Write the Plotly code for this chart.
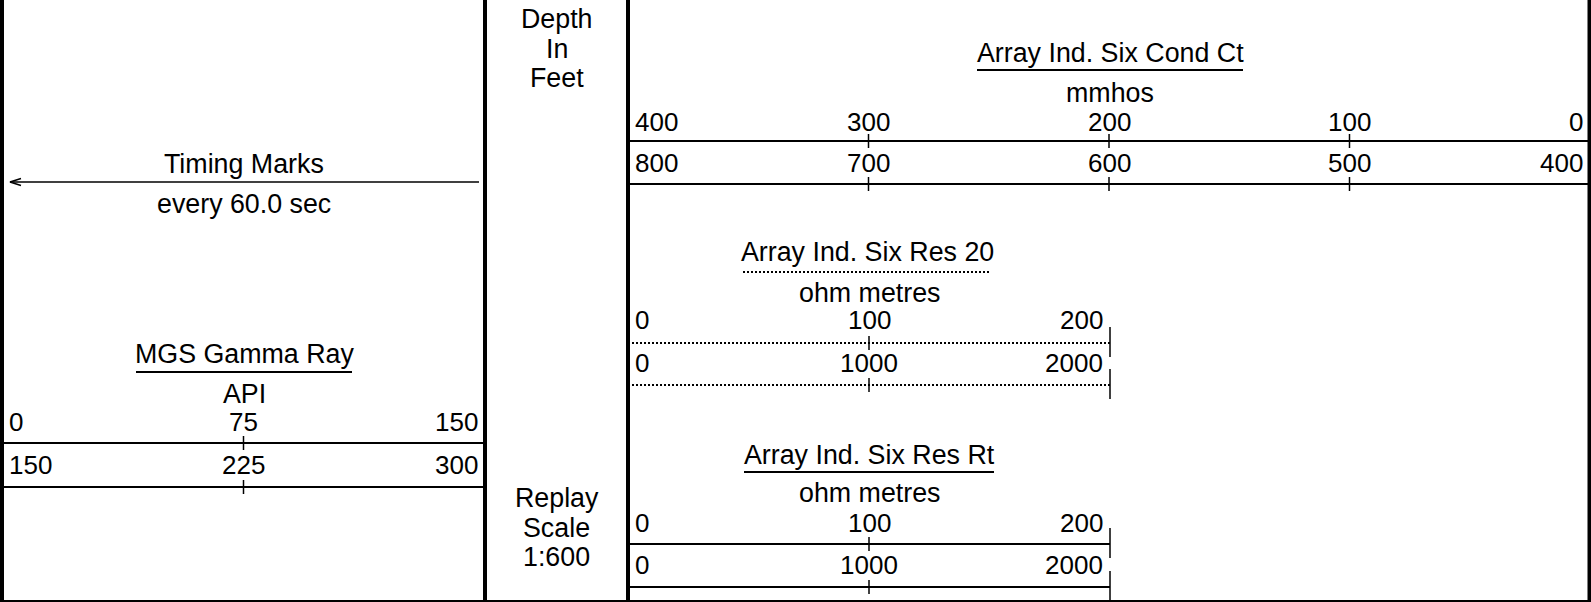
import plotly.graph_objects as go

W, H = 1591, 602

# ---- scale values -------------------------------------------------------
gr_top = [0, 75, 150]
gr_bottom = [150, 225, 300]
ct_top = [400, 300, 200, 100, 0]
ct_bottom = [800, 700, 600, 500, 400]
res20_top = [0, 100, 200]
res20_bottom = [0, 1000, 2000]
rt_top = [0, 100, 200]
rt_bottom = [0, 1000, 2000]

# ---- layout of the header (pixel frame, y grows downward) -------------
FONT = "Liberation Sans, Arial, sans-serif"
TXT = 26.8
NUM = 26

tracks = {
    "gr": (2, 485),
    "ct": (628, 1590),
    "res": (628, 1110),
}

# each scale: values, track, y of scale line, y of its labels, dash, end tick
scales = [
    dict(vals=gr_top, track="gr", line_y=443, label_y=422, dash="solid", end=False),
    dict(vals=gr_bottom, track="gr", line_y=487, label_y=464.5, dash="solid", end=False),
    dict(vals=ct_top, track="ct", line_y=141, label_y=121.5, dash="solid", end=False),
    dict(vals=ct_bottom, track="ct", line_y=184, label_y=163, dash="solid", end=False),
    dict(vals=res20_top, track="res", line_y=343, label_y=320, dash="2px,2px", end=True),
    dict(vals=res20_bottom, track="res", line_y=385, label_y=363, dash="2px,2px", end=True),
    dict(vals=rt_top, track="res", line_y=544, label_y=523, dash="solid", end=True),
    dict(vals=rt_bottom, track="res", line_y=587, label_y=565, dash="solid", end=True),
]

fig = go.Figure()
layout_axes = {}
annotations = []
shapes = []

# frame axis used for borders and headings
layout_axes["xaxis"] = dict(range=[0, W], domain=[0, 1], visible=False, fixedrange=True, anchor="y")
layout_axes["yaxis"] = dict(range=[H, 0], domain=[0, 1], visible=False, fixedrange=True, anchor="x")


def scale_axis(p0, p1, v0, v1, pad=12):
    """Axis whose values v0..v1 fall on pixels p0..p1, padded so edge marks are not clipped."""
    k = (v1 - v0) / (p1 - p0)
    d0 = max(0, p0 - pad)
    d1 = min(W, p1 + pad)
    return dict(
        domain=[d0 / W, d1 / W],
        range=[v0 + (d0 - p0) * k, v0 + (d1 - p0) * k],
        visible=False, fixedrange=True, anchor="y",
    )


for i, s in enumerate(scales, start=2):
    vals = s["vals"]
    p0, p1 = tracks[s["track"]]
    v0, v1 = vals[0], vals[-1]
    layout_axes[f"xaxis{i}"] = scale_axis(p0, p1, v0, v1)
    xa = f"x{i}"
    ly = s["line_y"]

    # scale line across the track
    fig.add_trace(go.Scatter(
        x=[v0, v1], y=[ly, ly], mode="lines", xaxis=xa, yaxis="y",
        line=dict(color="black", width=2, dash=s["dash"]), hoverinfo="skip",
    ))

    # tick marks at the inner values
    tx, ty = [], []
    for v in vals[1:-1]:
        tx += [v, v, None]
        ty += [ly - 7, ly + 7, None]
    if s["end"]:
        tx += [v1, v1, None]
        ty += [ly - 16, ly + 14, None]
    fig.add_trace(go.Scatter(
        x=tx, y=ty, mode="lines", xaxis=xa, yaxis="y",
        line=dict(color="black", width=1.5), hoverinfo="skip",
    ))

    # scale labels
    for j, v in enumerate(vals):
        if j == 0:
            anchor, shift = "left", 5
        elif j == len(vals) - 1:
            anchor, shift = "right", -5
        else:
            anchor, shift = "center", 0
        annotations.append(dict(
            x=v, y=s["label_y"], xref=xa, yref="y", text=str(v), showarrow=False,
            xanchor=anchor, yanchor="middle", xshift=shift,
            font=dict(family=FONT, size=NUM, color="black"),
        ))

# ---- headings ------------------------------------------------------------
headings = [
    ("Timing Marks", 244, 164),
    ("every 60.0 sec", 244, 204),
    ("MGS Gamma Ray", 244, 353.5),
    ("API", 244, 393.5),
    ("Depth", 556.5, 19),
    ("In", 556.5, 49),
    ("Feet", 556.5, 78),
    ("Replay", 556.5, 498),
    ("Scale", 556.5, 528),
    ("1:600", 556.5, 557),
    ("Array Ind. Six Cond Ct", 1110, 52.5),
    ("mmhos", 1110, 92.5),
    ("Array Ind. Six Res 20", 867, 252),
    ("ohm metres", 869, 293),
    ("Array Ind. Six Res Rt", 869, 455),
    ("ohm metres", 869, 493),
]
for text, x, y in headings:
    annotations.append(dict(
        x=x, y=y, xref="x", yref="y", text=text, showarrow=False,
        xanchor="center", yanchor="middle",
        font=dict(family=FONT, size=TXT, color="black"),
    ))

# underlines (curve line style) below each curve name
underlines = [
    (136, 352, 372, "solid"),
    (977, 1243, 70, "solid"),
    (743, 990, 272, "2px,2px"),
    (744, 994, 472, "solid"),
]
for x0, x1, y, dash in underlines:
    shapes.append(dict(type="line", xref="x", yref="y", x0=x0, x1=x1, y0=y, y1=y,
                       line=dict(color="black", width=2, dash=dash)))

# track borders
for x in (2, 485, 628, 1589.5):
    shapes.append(dict(type="line", xref="x", yref="paper", x0=x, x1=x, y0=0, y1=1,
                       line=dict(color="black", width=4)))
shapes.append(dict(type="line", xref="paper", yref="y", x0=0, x1=1, y0=601, y1=601,
                   line=dict(color="black", width=2)))

# timing marks arrow pointing left
fig.add_trace(go.Scatter(
    x=[479, 10, None, 21, 10, 21], y=[182, 182, None, 178.5, 182, 185.5],
    mode="lines", xaxis="x", yaxis="y",
    line=dict(color="black", width=1.5), hoverinfo="skip",
))

fig.update_layout(
    width=W, height=H,
    margin=dict(l=0, r=0, t=0, b=0),
    paper_bgcolor="white", plot_bgcolor="rgba(0,0,0,0)",
    showlegend=False,
    annotations=annotations,
    shapes=shapes,
    **layout_axes,
)

fig.write_html("out.html", config={"displayModeBar": False})
